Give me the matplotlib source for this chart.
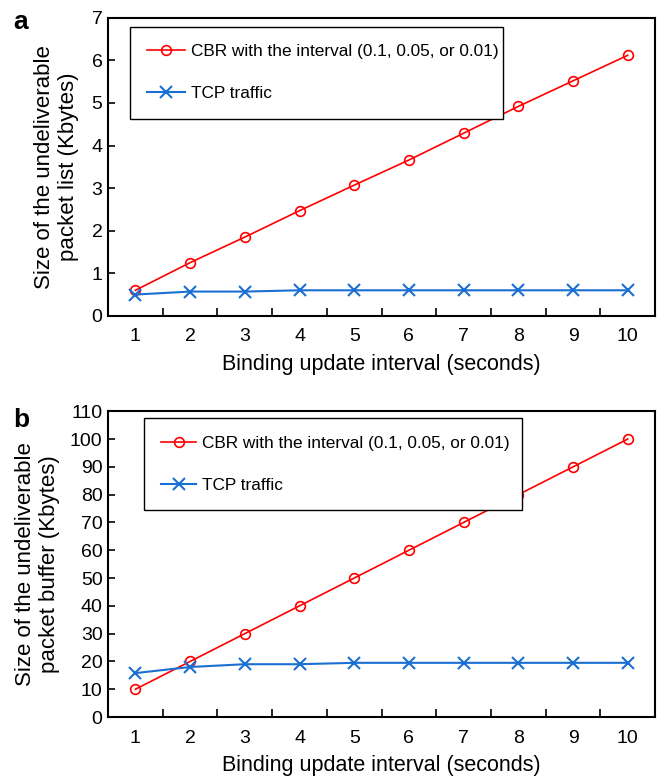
import numpy as np
import matplotlib.pyplot as plt
from matplotlib.ticker import FixedLocator, NullFormatter

plt.rcParams['font.family'] = ['Liberation Sans', 'DejaVu Sans']

# data
interval = [1, 2, 3, 4, 5, 6, 7, 8, 9, 10]
cbr_list = [0.6, 1.25, 1.85, 2.47, 3.07, 3.66, 4.29, 4.92, 5.52, 6.12]
tcp_list = [0.5, 0.57, 0.57, 0.6, 0.6, 0.6, 0.6, 0.6, 0.6, 0.6]
cbr_buf = [10, 20, 30, 40, 50, 60, 70, 80, 90, 100]
tcp_buf = [15.8, 18, 19, 19, 19.5, 19.5, 19.5, 19.5, 19.5, 19.5]

cbr_label = 'CBR with the interval (0.1, 0.05, or 0.01)'
tcp_label = 'TCP traffic'
red = '#ff0000'
blue = '#1a6fd3'

fig = plt.figure(figsize=(6.59, 7.76), dpi=100)
ax_a = fig.add_axes([0.164, 0.593, 0.830, 0.384])
ax_b = fig.add_axes([0.164, 0.076, 0.830, 0.394])


def style(ax, cbr, tcp, ymax, ystep, ylabel, legend_box, xpad, ypad, hlen):
    ax.plot(interval, cbr, color=red, lw=1.2, marker='o', ms=7,
            mfc='none', mew=1.2, label=cbr_label)
    ax.plot(interval, tcp, color=blue, lw=1.5, marker='x', ms=9,
            mew=1.5, label=tcp_label)
    ax.set_xlim(0.5, 10.5)
    ax.set_ylim(0, ymax)
    ax.set_xticks(interval)
    ax.xaxis.set_minor_locator(FixedLocator(np.arange(1.5, 10, 1)))
    ax.xaxis.set_minor_formatter(NullFormatter())
    ax.tick_params(axis='x', which='major', length=0, labelsize=14, pad=9)
    ax.tick_params(axis='x', which='minor', direction='in', length=6,
                   width=1.2, top=False)
    ax.set_yticks(np.arange(0, ymax + 0.01, ystep))
    ax.tick_params(axis='y', direction='in', length=5, width=1.2,
                   labelsize=14, pad=4)
    for s in ax.spines.values():
        s.set_linewidth(1.5)
    ax.set_xlabel('Binding update interval (seconds)', fontsize=15.5,
                  labelpad=xpad)
    ax.set_ylabel(ylabel, fontsize=16, labelpad=ypad, linespacing=1.2)
    leg = ax.legend(loc='upper left', bbox_to_anchor=legend_box,
                    mode='expand', fancybox=False, edgecolor='black',
                    framealpha=1, fontsize=12.4, labelspacing=1.58,
                    handlelength=hlen, handletextpad=0.35, borderpad=1.0,
                    borderaxespad=0)
    leg.get_frame().set_linewidth(1.0)


style(ax_a, cbr_list, tcp_list, 7, 1,
      'Size of the undeliverable\npacket list (Kbytes)',
      (0.040, 0.970, 0.682, 0.0), 6, 9, 2.2)
style(ax_b, cbr_buf, tcp_buf, 110, 10,
      'Size of the undeliverable\npacket buffer (Kbytes)',
      (0.066, 0.977, 0.69, 0.0), 6, 7, 2.0)

fig.text(0.020, 0.962, 'a', fontsize=19, fontweight='bold')
fig.text(0.020, 0.450, 'b', fontsize=19, fontweight='bold')

fig.savefig('out.png', dpi=100)
